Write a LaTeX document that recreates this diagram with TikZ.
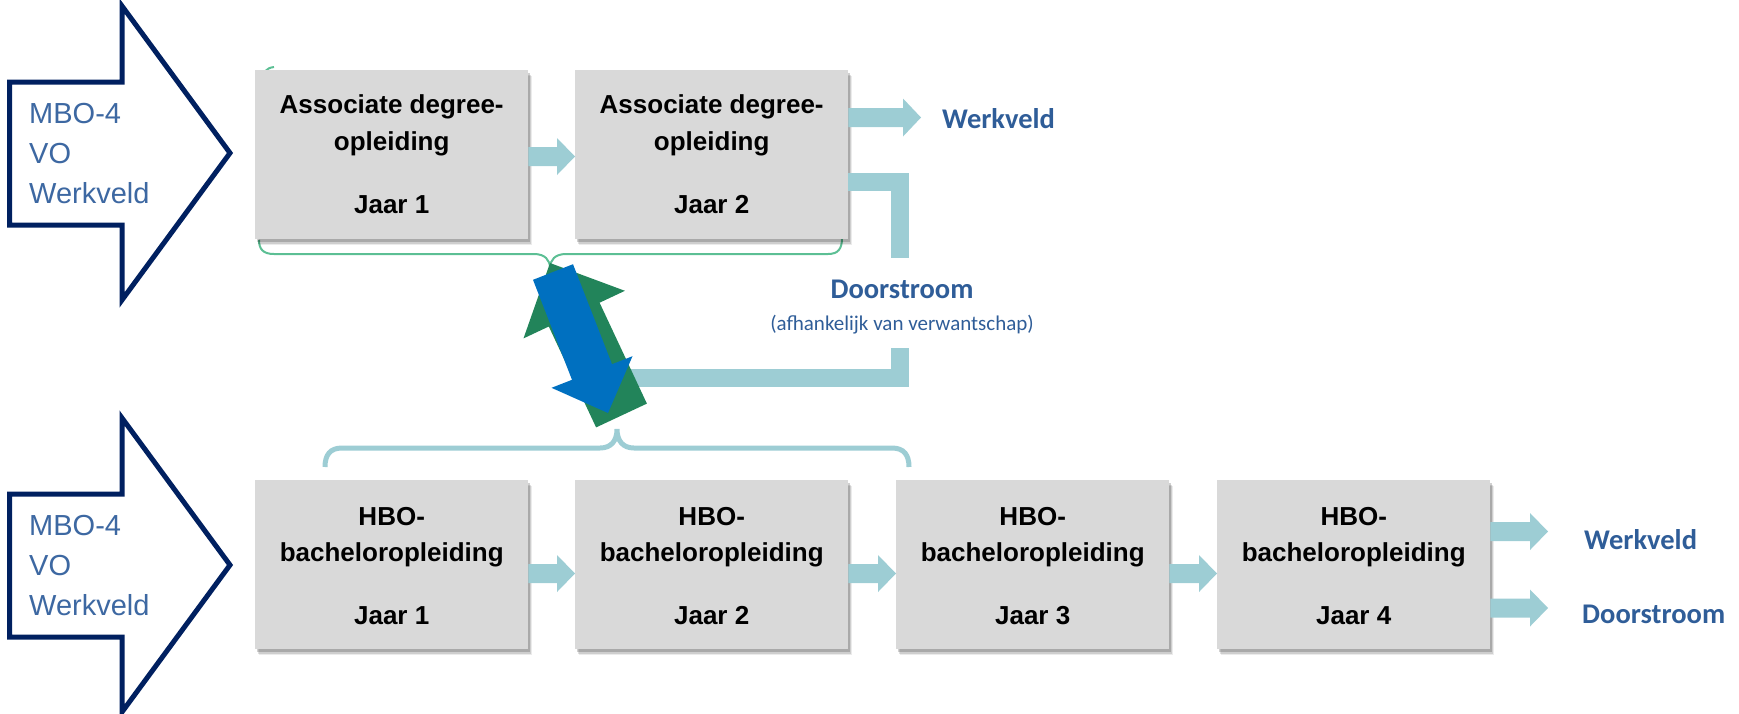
\documentclass[tikz,border=0pt]{standalone}
\usepackage{fontspec}
\setmainfont{Liberation Sans}
\newfontfamily\calib{Carlito}
\usetikzlibrary{calc,shadows}
\definecolor{boxgray}{HTML}{D9D9D9}
\definecolor{flowblue}{HTML}{9DCDD4}
\definecolor{navy}{HTML}{002060}
\definecolor{txtblue}{HTML}{2F5D98}
\definecolor{mbo}{HTML}{3D68A2}
\definecolor{bracegreen}{HTML}{5CBF94}
\definecolor{dgreen}{HTML}{22845A}
\definecolor{arrblue}{HTML}{0070C0}
% horizontal fat arrow: #2 start point, #3 end point (tip), #1 head half height
\newcommand\fatarrow[3][18.5pt]{%
  \fill[flowblue] let \p1=(#2), \p2=(#3) in
    (\x1,\y1+9.5pt) -- (\x2-18pt,\y1+9.5pt) -- (\x2-18pt,\y1+#1) -- (\x2,\y1)
    -- (\x2-18pt,\y1-#1) -- (\x2-18pt,\y1-9.5pt) -- (\x1,\y1-9.5pt) -- cycle;}
\tikzset{
  box/.style={fill=boxgray, minimum width=273pt, minimum height=169pt, inner sep=0pt,
    anchor=north west,
    drop shadow={shadow xshift=4pt, shadow yshift=-6pt, opacity=0.08, fill=black},
    drop shadow={shadow xshift=3pt, shadow yshift=-4.5pt, opacity=0.12, fill=black},
    drop shadow={shadow xshift=1.5pt, shadow yshift=-3pt, opacity=0.18, fill=black}},
  boxtxt/.style={font=\fontsize{26}{30}\selectfont\bfseries, anchor=base, inner sep=0pt},
  mbotxt/.style={font=\fontsize{29}{34}\selectfont, text=mbo, anchor=base west, inner sep=0pt},
  lbl/.style={font=\calib\bfseries\fontsize{28.5}{32}\selectfont, text=txtblue, inner sep=0pt},
  bigarrow/.style={draw=navy, line width=5pt, line join=miter, fill=white},
  flowline/.style={draw=flowblue, line width=18pt, line join=miter},
}
\begin{document}
\begin{tikzpicture}[x=1pt,y=-1pt]
\useasboundingbox (0,0) rectangle (1739,713);

% braces
\draw[bracegreen, line width=2pt] (259,240) .. controls (259,249) and (263,254) .. (274,254)
  -- (534,254) .. controls (545,254) and (550,260) .. (550,268)
  .. controls (550,260) and (555,254) .. (566,254) -- (828,254)
  .. controls (838,254) and (842,249) .. (842,238);
\draw[bracegreen, line width=2pt] (263,80) .. controls (263,72) and (266,68) .. (274,67);
\draw[flowblue, line width=5pt] (325,467) .. controls (325,455) and (330,448) .. (342,448)
  -- (600,448) .. controls (611,448) and (617,441) .. (617,429)
  .. controls (617,441) and (623,448) .. (634,448) -- (892,448)
  .. controls (904,448) and (909,455) .. (909,467);

% boxes
\node[box] (a1) at (255,70) {};
\node[box] (a2) at (575,70) {};
\node[box] (b1) at (255,480) {};
\node[box] (b2) at (575,480) {};
\node[box] (b3) at (896,480) {};
\node[box] (b4) at (1217,480) {};

% Doorstroom connector (L-shaped band)
\node[lbl, anchor=base] (ds) at (902,298) {Doorstroom};
\node[font=\calib\fontsize{21}{24}\selectfont, text=txtblue, anchor=base, inner sep=0pt] (dsx) at (902,330) {(afhankelijk van verwantschap)};
\coordinate (c1) at (900,258);
\coordinate (c2) at (900,348);
\coordinate (c3) at (620,377.5);
\draw[flowline] (a2.east |- 0,182) -- (c1 |- 0,182) -- (c1);
\draw[flowline] (c2) -- (c2 |- c3) -- (c3);

% box texts
\foreach \n/\t in {a1/Jaar 1, a2/Jaar 2}{
  \node[boxtxt] at ($(\n.north)+(0,43)$) {Associate degree-};
  \node[boxtxt] at ($(\n.north)+(0,80)$) {opleiding};
  \node[boxtxt] at ($(\n.north)+(0,143)$) {\t};
}
\foreach \n/\t in {b1/Jaar 1, b2/Jaar 2, b3/Jaar 3, b4/Jaar 4}{
  \node[boxtxt] at ($(\n.north)+(0,45)$) {HBO-};
  \node[boxtxt] at ($(\n.north)+(0,81)$) {bacheloropleiding};
  \node[boxtxt] at ($(\n.north)+(0,144)$) {\t};
}

% flow arrows between boxes
\fatarrow{$(a1.north east)+(0,86.5)$}{$(a2.north west)+(0,86.5)$}
\fatarrow{$(b1.north east)+(0,93.5)$}{$(b2.north west)+(0,93.5)$}
\fatarrow{$(b2.north east)+(0,93.5)$}{$(b3.north west)+(0,93.5)$}
\fatarrow{$(b3.north east)+(0,93.5)$}{$(b4.north west)+(0,93.5)$}

% outgoing arrows and labels
\node[lbl, anchor=base west] (w1) at (942,128) {Werkveld};
\coordinate (t1) at (921,117.5);
\fatarrow[19pt]{$(a2.north east)+(0,47.5)$}{t1}
\node[lbl, anchor=base west] (w2) at (1584,549) {Werkveld};
\coordinate (t2) at (1548,531.5);
\fatarrow{$(b4.north east)+(0,51.5)$}{t2}
\node[lbl, anchor=base west] (d2) at (1582,623) {Doorstroom};
\coordinate (t3) at (1548,608);
\fatarrow{$(b4.north east)+(0,128)$}{t3}

% big entry arrows
\foreach \dy in {0,412}{
  \begin{scope}[yshift=-\dy pt]
  \path[bigarrow] (9.5,82) -- (122,82) -- (122,6) -- (230,153) -- (122,300)
    -- (122,225) -- (9.5,225) -- cycle;
  \node[mbotxt] at (29,123) {MBO-4};
  \node[mbotxt] at (29,163) {VO};
  \node[mbotxt] at (29,203) {Werkveld};
  \end{scope}
}

% crossing arrows between Ad and HBO
\fill[dgreen] (596.1,427.4) -- (646.9,403.6) -- (599.6,302.7) -- (624.9,290.8)
  -- (550,263) -- (523.5,338.4) -- (548.8,326.5) -- cycle;
\fill[arrblue] (533,279.8) -- (573,264.2) -- (612,364.2) -- (632.5,356.2)
  -- (608,413) -- (551.5,387.8) -- (572,379.8) -- cycle;
\end{tikzpicture}
\end{document}
